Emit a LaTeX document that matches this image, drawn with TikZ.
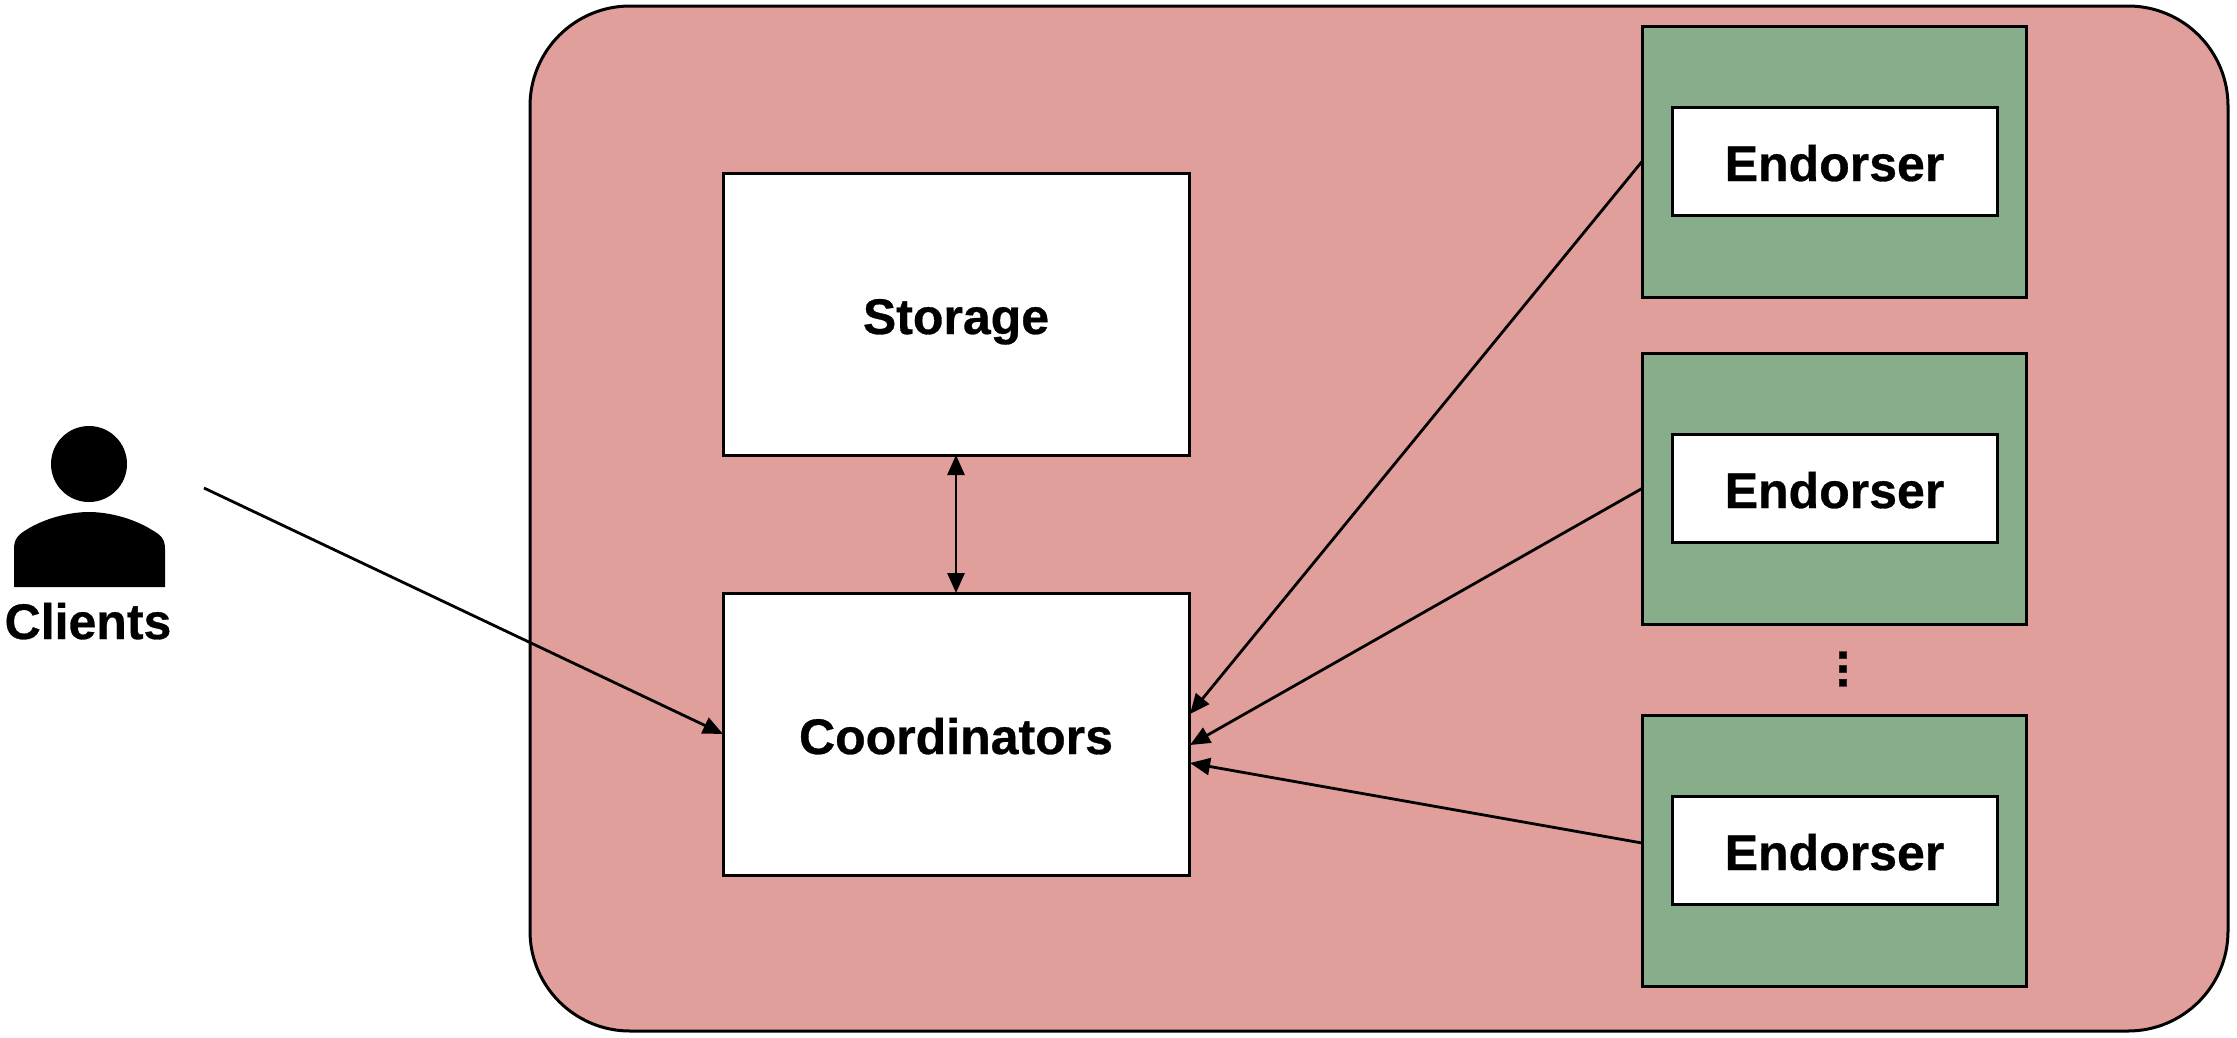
\documentclass[tikz,border=0pt]{standalone}
\usepackage{fontspec}
\setmainfont{Liberation Sans}[BoldFeatures={FakeBold=0.6}]
\usetikzlibrary{arrows.meta}
\definecolor{pinkbg}{HTML}{E19F9C}
\definecolor{greenbg}{HTML}{87AD8B}
\tikzset{
  x=1pt,y=-1pt,
  boxbase/.style={draw=black,line width=3pt,inner sep=0pt,outer sep=0pt,anchor=north west,text height=40pt,text depth=0pt,font=\fontsize{50}{60}\selectfont\bfseries},
  whitebox/.style={boxbase,fill=white,minimum width=466pt,minimum height=282pt},
  greenbox/.style={boxbase,fill=greenbg,minimum width=384pt,minimum height=271pt},
  innerbox/.style={boxbase,fill=white,minimum width=325pt,minimum height=108pt},
  link/.style={line width=2.8pt,-{Triangle[length=20pt,width=17pt]}},
  biglink/.style={line width=2.8pt,{Triangle[length=20pt,width=17pt]}-{Triangle[length=20pt,width=17pt]}},
  plain/.style={font=\fontsize{50}{60}\selectfont\bfseries,inner sep=0pt,outer sep=0pt}
}
\begin{document}
\begin{tikzpicture}
\useasboundingbox (0,0) rectangle (2237,1037);
\node[draw=black,line width=3pt,fill=pinkbg,rounded corners=100pt,inner sep=0pt,outer sep=0pt,anchor=north west,minimum width=1698pt,minimum height=1025pt] (region) at (530,6) {};
\node[whitebox] (storage) at (723,173) {Storage};
\node[whitebox] (coord) at (723,593) {Coordinators};
\node[greenbox] (g1) at (1642,26) {};
\node[greenbox] (g2) at (1642,353) {};
\node[greenbox] (g3) at (1642,715) {};
\node[innerbox] (e1) at (1672,107) {Endorser};
\node[innerbox] (e2) at (1672,434) {Endorser};
\node[innerbox] (e3) at (1672,796) {Endorser};
\node[plain,rotate=90] (dots) at (1843,669) {...};
% person
\fill[black] (89,464) circle (38);
\fill[black] (14,587) -- (14,549) .. controls (14,539) and (18,535) .. (26,530) .. controls (45,518) and (70,512) .. (89,512) .. controls (108,512) and (133,518) .. (152,530) .. controls (161,535) and (165,539) .. (165,549) -- (165,587) -- cycle;
\node[plain,anchor=base] (clients) at (88,639) {Clients};
\coordinate (cstart) at (204,488);
\coordinate (s3) at (1642,843);
\coordinate (t1) at (1190,714);
\coordinate (t2) at (1190,745);
\coordinate (t3) at (1190,763);
\draw[link] (cstart) -- (coord.west);
\draw[biglink] (storage.south) -- (coord.north);
\draw[link] (g1.west) -- (t1);
\draw[link] (g2.west) -- (t2);
\draw[link] (s3) -- (t3);
\end{tikzpicture}
\end{document}
